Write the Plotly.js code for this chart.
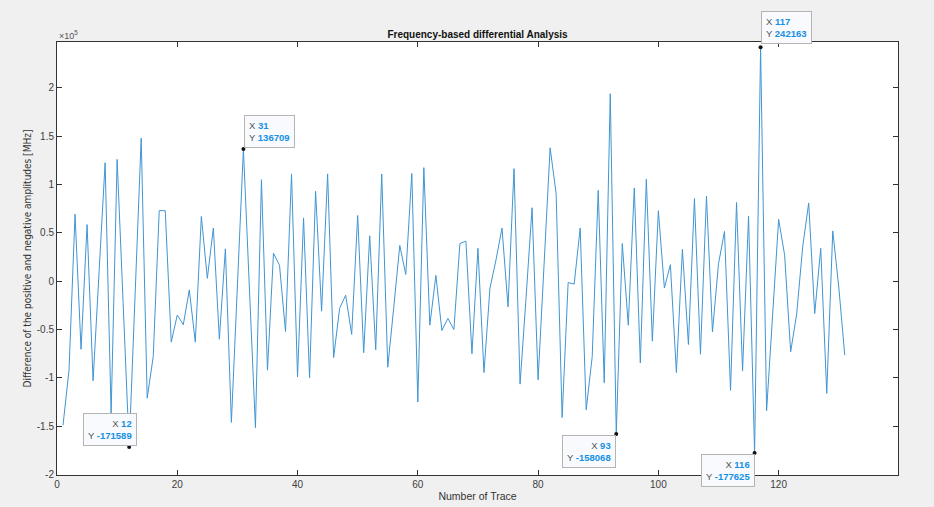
<!DOCTYPE html>
<html>
<head>
<meta charset="utf-8">
<script src="https://cdn.plot.ly/plotly-3.0.1.min.js"></script>
<style>
  html, body { margin: 0; padding: 0; background: #f0f0f0; }
  #chart { width: 934px; height: 507px; }
</style>
</head>
<body>
<div id="chart"></div>
<script>
// ---- data ----
const traceNumbers = Array.from({length: 131}, (_, i) => i + 1);
const amplitudeDiff = [
  -149000, -92000, 69300, -70500, 58600, -103000, 10000, 122500, -137000, 126000,
  -23000, -171589, -12000, 148000, -121000, -78000, 73000, 73000, -63000, -35000,
  -45000, -9000, -63000, 67000, 3000, 55000, -60000, 33500, -146000, -5000,
  136709, -8000, -151500, 105000, -92000, 29000, 16500, -52000, 111000, -99000,
  65500, -100000, 93000, -31000, 111000, -79000, -28000, -14500, -55000, 68000,
  -74000, 47000, -71000, 111000, -89000, -27000, 37000, 7000, 111500, -125000,
  117500, -45500, 6000, -51000, -38500, -50000, 39000, 41500, -75000, 34000,
  -94500, -7000, 22000, 55000, -26500, 116500, -106500, -17000, 76000, -102000,
  18000, 138000, 90700, -141000, -1400, -3000, 55000, -133000, -78000, 94000,
  -105000, 194000, -158068, 39000, -45500, 96500, -84500, 105500, -62000, 73000,
  -7000, 17000, -94500, 33000, -65500, 85500, -75500, 88000, -52500, 18000,
  51500, -113000, 81500, -93000, 67500, -177625, 242163, -134000, -35000, 64000,
  27000, -73000, -34000, 35500, 81000, -33500, 34000, -116000, 52000, -6000,
  -76500
];
const dataTipTraces = [12, 31, 93, 116, 117];
const xTickVals = [0, 20, 40, 60, 80, 100, 120];
const yTickLabels = ['-2', '-1.5', '-1', '-0.5', '0', '0.5', '1', '1.5', '2'];
const yTickScale = 1e5;

// ---- placement of the data tips (style only) ----
const tipPlacement = {
  12:  {xanchor: 'right', yanchor: 'bottom', align: 'right', xshift: 8,  yshift: 1},
  31:  {xanchor: 'left',  yanchor: 'bottom', align: 'left',  xshift: 1,  yshift: 1},
  93:  {xanchor: 'right', yanchor: 'top',    align: 'right', xshift: 0,  yshift: -1},
  116: {xanchor: 'right', yanchor: 'top',    align: 'right', xshift: 0,  yshift: -1},
  117: {xanchor: 'left',  yanchor: 'bottom', align: 'left',  xshift: 0,  yshift: 3}
};

const tipX = dataTipTraces;
const tipY = dataTipTraces.map(t => amplitudeDiff[traceNumbers.indexOf(t)]);

const lineTrace = {
  x: traceNumbers, y: amplitudeDiff, type: 'scatter', mode: 'lines',
  line: {color: '#4095d2', width: 1}, hoverinfo: 'x+y'
};
const tipTrace = {
  x: tipX, y: tipY, type: 'scatter', mode: 'markers',
  marker: {color: '#111', size: 4}, hoverinfo: 'skip'
};

const blue = '#1590e6';
const grey = '#555';
const annotations = dataTipTraces.map((t, i) => {
  const p = tipPlacement[t];
  return {
    x: tipX[i], y: tipY[i], xref: 'x', yref: 'y', showarrow: false,
    xanchor: p.xanchor, yanchor: p.yanchor, align: p.align,
    xshift: p.xshift, yshift: p.yshift,
    text: `<span style="color:${grey}">X </span><b style="color:${blue}">${tipX[i]}</b><br>` +
          `<span style="color:${grey}">Y </span><b style="color:${blue}">${tipY[i]}</b>`,
    font: {family: 'Liberation Sans, Arial, sans-serif', size: 9.5, color: grey},
    bgcolor: '#f8fafd', bordercolor: '#b4b4b4', borderwidth: 1, borderpad: 4
  };
});
annotations.push({
  xref: 'paper', yref: 'paper', x: 0, y: 1, xanchor: 'left', yanchor: 'bottom',
  showarrow: false, text: '×10<sup>5</sup>', yshift: -1,
  font: {family: 'Liberation Sans, Arial, sans-serif', size: 9, color: '#555'}
});

const layout = {
  width: 934, height: 507,
  paper_bgcolor: '#f0f0f0', plot_bgcolor: '#ffffff',
  margin: {l: 57, r: 36, t: 42, b: 32},
  showlegend: false,
  font: {family: 'Liberation Sans, Arial, sans-serif', size: 10, color: '#404040'},
  title: {
    text: '<b>Frequency-based differential Analysis</b>',
    font: {size: 10, color: '#111'},
    x: 0.5, xref: 'paper', xanchor: 'center', y: 1, yref: 'paper', yanchor: 'bottom', pad: {b: 4}
  },
  xaxis: {
    range: [0, 139.85], tickvals: xTickVals, ticks: 'inside', ticklen: 5,
    tickcolor: '#333', showline: true, linecolor: '#333', linewidth: 1,
    mirror: 'allticks', showgrid: false, zeroline: false,
    tickfont: {size: 10, color: '#404040'},
    title: {text: 'Number of Trace', standoff: 3, font: {size: 10.5, color: '#333'}}
  },
  yaxis: {
    range: [-200500, 247500],
    tickvals: yTickLabels.map(s => parseFloat(s) * yTickScale),
    ticktext: yTickLabels,
    ticks: 'inside', ticklen: 5, tickcolor: '#333',
    showline: true, linecolor: '#333', linewidth: 1, mirror: 'allticks',
    showgrid: false, zeroline: false,
    tickfont: {size: 10, color: '#404040'},
    title: {text: 'Difference of the positive and negative amplitudes [MHz]', standoff: 3,
            font: {family: 'Liberation Sans Narrow, Arial Narrow, DejaVu Sans Condensed, sans-serif',
                   size: 10, color: '#333'}}
  },
  annotations: annotations
};

Plotly.newPlot('chart', [lineTrace, tipTrace], layout, {displayModeBar: false, staticPlot: true});
</script>
</body>
</html>
